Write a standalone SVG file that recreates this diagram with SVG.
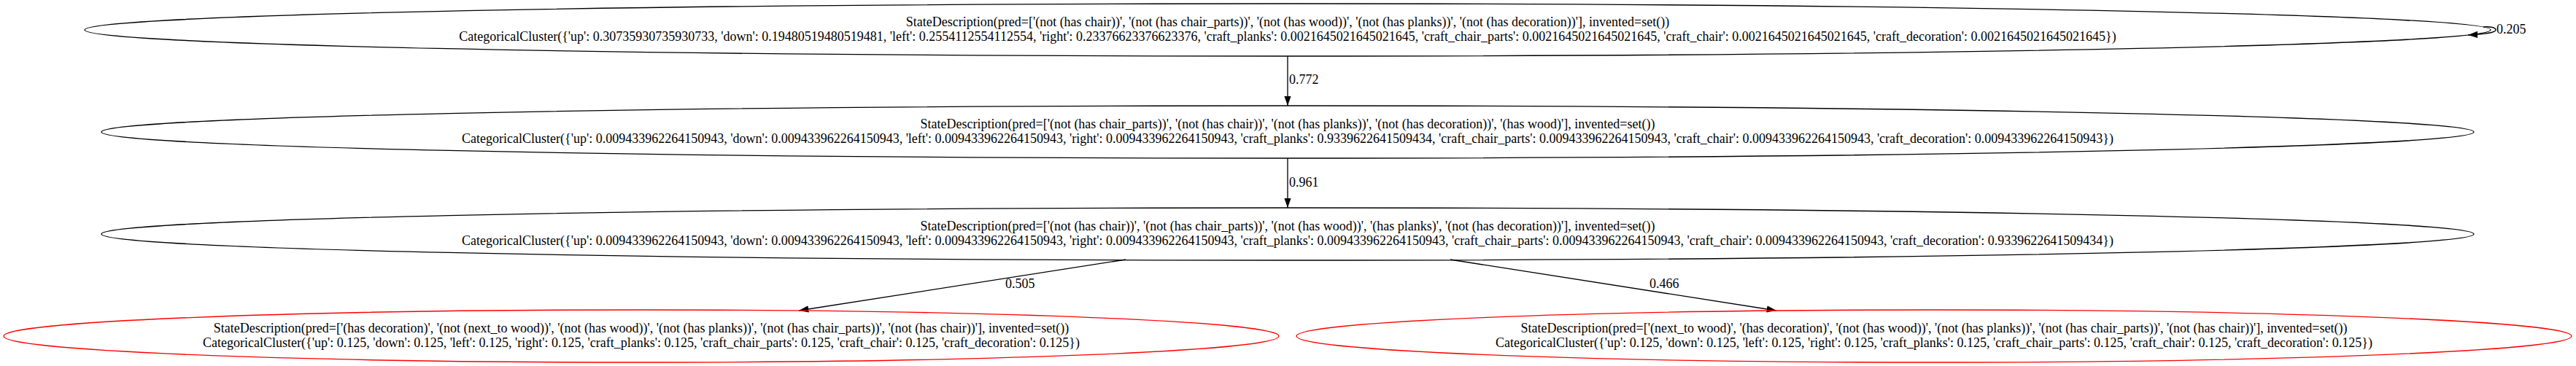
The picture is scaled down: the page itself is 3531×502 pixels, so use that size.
<svg xmlns="http://www.w3.org/2000/svg" width="3531" height="502" viewBox="0 0 3531 502">
<style>
text { font-family: "Liberation Serif", "Times New Roman", serif; font-size: 18px; fill: #000; }
.n { text-anchor: middle; }
.node ellipse { fill: none; stroke-width: 1.33; }
.blk { stroke: #000; }
.red { stroke: #ff0000; }
.edge { fill: none; stroke: #000; stroke-width: 1.33; }
</style>
<defs>
<marker id="ah" markerUnits="userSpaceOnUse" markerWidth="14" markerHeight="10" refX="13.3" refY="4.67" orient="auto">
<path d="M0,0 L13.3,4.67 L0,9.33 z" fill="#000"/>
</marker>
</defs>
<rect width="3531" height="502" fill="#fff"/>
<g id="edges">
<path class="edge" d="M3404,37 C3414,36 3421,38 3421,41 C3421,44 3408,47 3383,48" marker-end="url(#ah)"/>
<text x="3422" y="46">0.205</text>
<path class="edge" d="M1765,77 L1765,145" marker-end="url(#ah)"/>
<text x="1767" y="115">0.772</text>
<path class="edge" d="M1765,217 L1765,285" marker-end="url(#ah)"/>
<text x="1767" y="256">0.961</text>
<path class="edge" d="M1543,356 L1095,426" marker-end="url(#ah)"/>
<text x="1378" y="395">0.505</text>
<path class="edge" d="M1988,356 L2435,426" marker-end="url(#ah)"/>
<text x="2261" y="395">0.466</text>
</g>
<g id="node1" class="node">
<ellipse class="blk" cx="1765" cy="41" rx="1649" ry="36"/>
<text class="n" x="1765" y="36">StateDescription(pred=['(not (has chair))', '(not (has chair_parts))', '(not (has wood))', '(not (has planks))', '(not (has decoration))'], invented=set())</text>
<text class="n" x="1765" y="56">CategoricalCluster({'up': 0.30735930735930733, 'down': 0.19480519480519481, 'left': 0.2554112554112554, 'right': 0.23376623376623376, 'craft_planks': 0.0021645021645021645, 'craft_chair_parts': 0.0021645021645021645, 'craft_chair': 0.0021645021645021645, 'craft_decoration': 0.0021645021645021645})</text>
</g>
<g id="node2" class="node">
<ellipse class="blk" cx="1765" cy="181" rx="1626" ry="36"/>
<text class="n" x="1765" y="176">StateDescription(pred=['(not (has chair_parts))', '(not (has chair))', '(not (has planks))', '(not (has decoration))', '(has wood)'], invented=set())</text>
<text class="n" x="1765" y="196">CategoricalCluster({'up': 0.009433962264150943, 'down': 0.009433962264150943, 'left': 0.009433962264150943, 'right': 0.009433962264150943, 'craft_planks': 0.9339622641509434, 'craft_chair_parts': 0.009433962264150943, 'craft_chair': 0.009433962264150943, 'craft_decoration': 0.009433962264150943})</text>
</g>
<g id="node3" class="node">
<ellipse class="blk" cx="1765" cy="321" rx="1626" ry="36"/>
<text class="n" x="1765" y="316">StateDescription(pred=['(not (has chair))', '(not (has chair_parts))', '(not (has wood))', '(has planks)', '(not (has decoration))'], invented=set())</text>
<text class="n" x="1765" y="336">CategoricalCluster({'up': 0.009433962264150943, 'down': 0.009433962264150943, 'left': 0.009433962264150943, 'right': 0.009433962264150943, 'craft_planks': 0.009433962264150943, 'craft_chair_parts': 0.009433962264150943, 'craft_chair': 0.009433962264150943, 'craft_decoration': 0.9339622641509434})</text>
</g>
<g id="node4" class="node">
<ellipse class="red" cx="879" cy="461" rx="874" ry="36"/>
<text class="n" x="879" y="456">StateDescription(pred=['(has decoration)', '(not (next_to wood))', '(not (has wood))', '(not (has planks))', '(not (has chair_parts))', '(not (has chair))'], invented=set())</text>
<text class="n" x="879" y="476">CategoricalCluster({'up': 0.125, 'down': 0.125, 'left': 0.125, 'right': 0.125, 'craft_planks': 0.125, 'craft_chair_parts': 0.125, 'craft_chair': 0.125, 'craft_decoration': 0.125})</text>
</g>
<g id="node5" class="node">
<ellipse class="red" cx="2651" cy="461" rx="874" ry="36"/>
<text class="n" x="2651" y="456">StateDescription(pred=['(next_to wood)', '(has decoration)', '(not (has wood))', '(not (has planks))', '(not (has chair_parts))', '(not (has chair))'], invented=set())</text>
<text class="n" x="2651" y="476">CategoricalCluster({'up': 0.125, 'down': 0.125, 'left': 0.125, 'right': 0.125, 'craft_planks': 0.125, 'craft_chair_parts': 0.125, 'craft_chair': 0.125, 'craft_decoration': 0.125})</text>
</g>
</svg>
